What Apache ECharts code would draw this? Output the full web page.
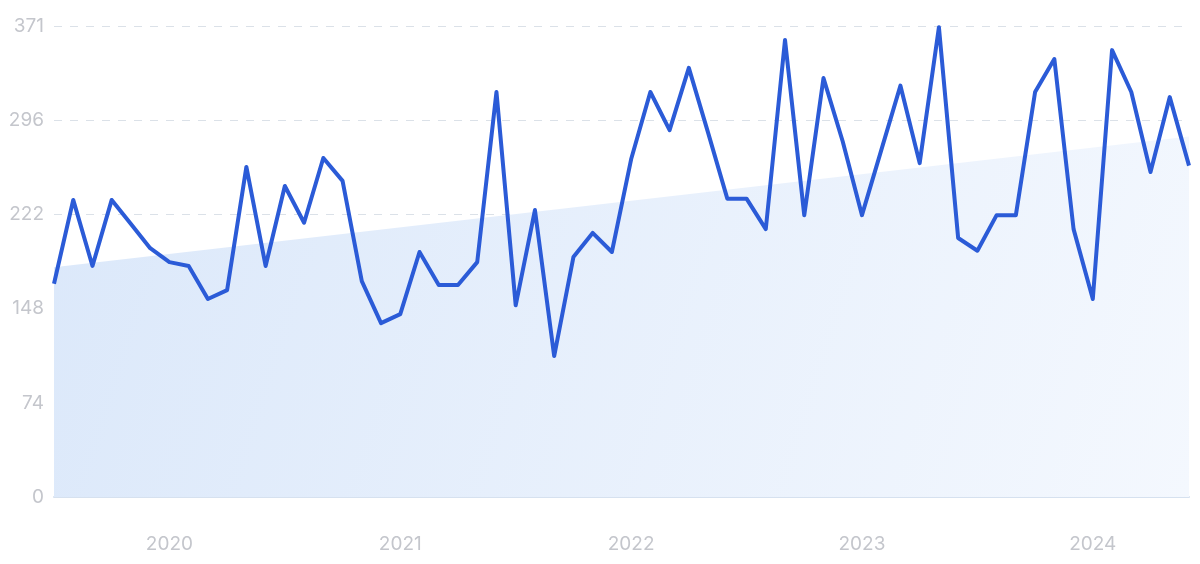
<!DOCTYPE html>
<html>
<head>
<meta charset="utf-8">
<script src="https://cdn.jsdelivr.net/npm/echarts@6/dist/echarts.min.js"></script>
<style>html,body{margin:0;padding:0;background:#fff}#c{width:1200px;height:564px}</style>
</head>
<body>
<div id="c"></div>
<script>
const months = [];
(function(){ for (let y = 2019, m = 7, k = 0; k < 60; k++) { months.push(y + '-' + String(m).padStart(2,'0')); m++; if (m > 12) { m = 1; y++; } } })();
const values = [168,234,182,234,215,196,185,182,156,163,
                260,182,245,216,267,249,170,137,144,193,
                167,167,185,319,151,226,111,189,208,193,
                266,319,289,338,287,235,235,211,360,222,
                330,280,222,273,324,263,370,204,194,222,
                222,319,345,211,156,352,319,256,315,261];
const trendStart = 181;
const trendEnd = 284;
const yMax = 371;
const yTickLabels = ['0','74','148','222','296','371'];

const chart = echarts.init(document.getElementById('c'), null, {renderer:'canvas'});
chart.setOption({
  animation: false,
  grid: {left: 54, right: 11, top: 26, bottom: 67},
  xAxis: [{
    type: 'category', data: months, boundaryGap: false,
    axisLine: {show: true, lineStyle: {color: '#d6e1ef', width: 2}},
    axisTick: {show: false},
    axisLabel: {
      interval: (i, v) => v.endsWith('-01'),
      formatter: v => v.slice(0,4),
      color: '#c4c6cc', fontSize: 19, fontFamily: 'Inter, "Noto Sans", sans-serif', margin: 38
    },
    splitLine: {show: false}
  },{
    type: 'value', min: 0, max: values.length - 1, show: false
  }],
  yAxis: {
    type: 'value', min: 0, max: yMax, interval: yMax / 5,
    axisLine: {show: false}, axisTick: {show: false},
    axisLabel: {
      formatter: (v) => { const i = Math.round(v / (yMax/5)); return yTickLabels[i]; },
      color: '#c4c6cc', fontSize: 19, fontFamily: 'Inter, "Noto Sans", sans-serif', margin: 10
    },
    splitLine: {show: true, lineStyle: {color: '#dbe1e8', type: [8, 8], width: 1}}
  },
  series: [{
    type: 'line', xAxisIndex: 1,
    data: [[0, trendStart], [values.length - 1, trendEnd]],
    symbol: 'none', lineStyle: {width: 0, opacity: 0},
    areaStyle: {
      color: new echarts.graphic.LinearGradient(0, 0, 1, 1, [
        {offset: 0, color: '#dbe8fa'},
        {offset: 1, color: '#f4f8fe'}
      ]),
      opacity: 1
    },
    z: 1, silent: true
  },{
    type: 'line', data: values, symbol: 'none',
    lineStyle: {color: '#2b5bd7', width: 4, join: 'round'},
    z: 3
  }]
});
</script>
</body>
</html>
